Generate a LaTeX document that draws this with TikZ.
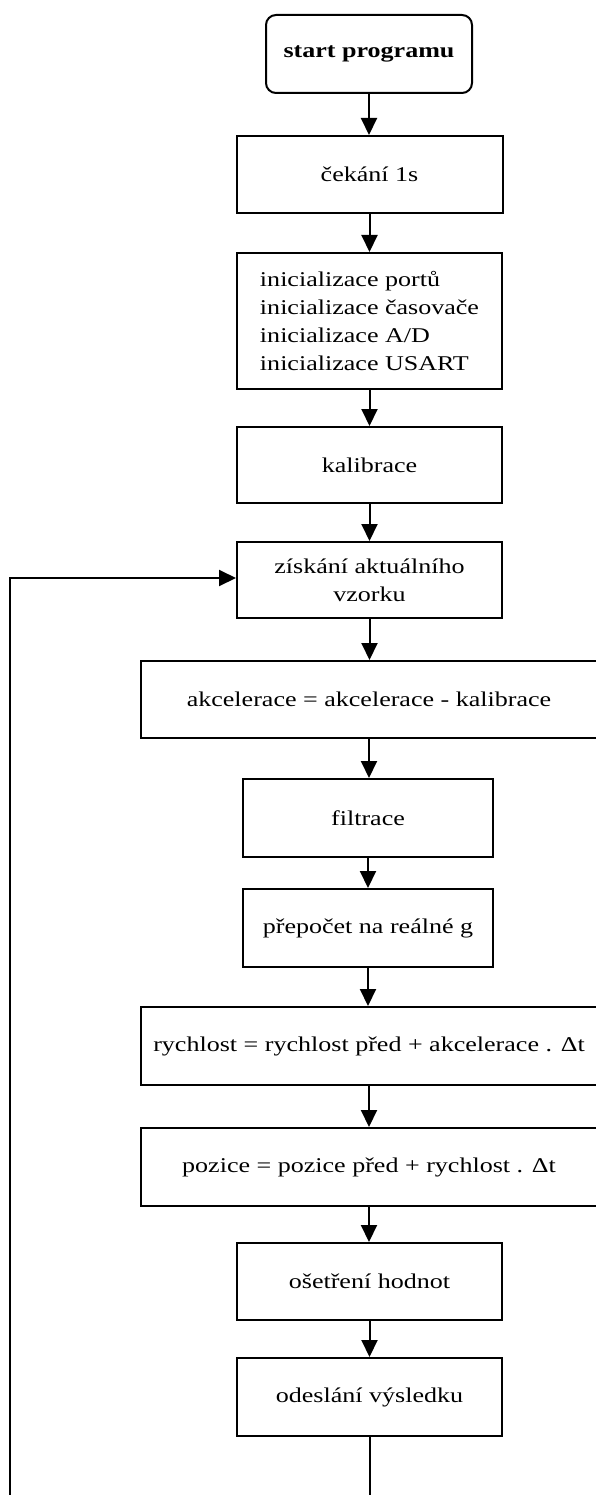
\documentclass[tikz,border=0pt]{standalone}
\usepackage{fontspec}
\setmainfont{Liberation Serif}[FakeStretch=1.24]
\usetikzlibrary{arrows.meta}
\begin{document}
\begin{tikzpicture}[x=1pt,y=-1pt,
  box/.style={draw=black,line width=2pt,inner sep=0pt,align=center,
    font=\fontsize{21}{28}\selectfont},
  startbox/.style={box,rounded corners=10pt,font=\fontsize{21}{28}\selectfont\bfseries},
  arr/.style={draw=black,line width=2pt,-{Triangle[length=17pt,width=16pt]}},
  ln/.style={draw=black,line width=2pt}]
\useasboundingbox (0,0) rectangle (595,1495);
\fill[white] (0,0) rectangle (595,1495);
\node[startbox,minimum width=206pt,minimum height=78pt] (start) at (369,54) {start programu};
\node[box,minimum width=266pt,minimum height=77pt] (cek) at (369.5,174.5) {čekání 1s};
\node[box,minimum width=265pt,minimum height=136pt,align=left] (init) at (369.5,321)
  {\fontsize{21}{27.5}\selectfont inicializace portů\\inicializace časovače\\inicializace A/D\\inicializace USART};
\node[box,minimum width=265pt,minimum height=76pt] (kal) at (369.5,465) {kalibrace};
\node[box,minimum width=265pt,minimum height=76pt] (zisk) at (369.5,580) {získání aktuálního\\vzorku};
\node[box,minimum width=456pt,minimum height=77pt] (akc) at (369,699.5) {akcelerace = akcelerace - kalibrace};
\node[box,minimum width=250pt,minimum height=78pt] (filt) at (368,818) {filtrace};
\node[box,minimum width=250pt,minimum height=78pt] (prep) at (368,928) {přepočet na reálné g};
\node[box,minimum width=456pt,minimum height=78pt] (rych) at (369,1046) {rychlost = rychlost před + akcelerace . Δt};
\node[box,minimum width=456pt,minimum height=78pt] (poz) at (369,1167) {pozice = pozice před + rychlost . Δt};
\node[box,minimum width=265pt,minimum height=77pt] (oset) at (369.5,1281.5) {ošetření hodnot};
\node[box,minimum width=265pt,minimum height=78pt] (odes) at (369.5,1397) {odeslání výsledku};
\coordinate (bot) at (369.5,1495);
\coordinate (botL) at (10,1495);
\coordinate (topL) at (10,578);
\draw[arr] (start.south) -- (start.south |- cek.north);
\draw[arr] (cek.south) -- (cek.south |- init.north);
\draw[arr] (init.south) -- (init.south |- kal.north);
\draw[arr] (kal.south) -- (kal.south |- zisk.north);
\draw[arr] (zisk.south) -- (zisk.south |- akc.north);
\draw[arr] (akc.south) -- (akc.south |- filt.north);
\draw[arr] (filt.south) -- (filt.south |- prep.north);
\draw[arr] (prep.south) -- (prep.south |- rych.north);
\draw[arr] (rych.south) -- (rych.south |- poz.north);
\draw[arr] (poz.south) -- (poz.south |- oset.north);
\draw[arr] (oset.south) -- (oset.south |- odes.north);
\draw[ln] (odes.south) -- (bot);
\draw[arr] (botL) -- (topL) -- (topL -| zisk.west);
\end{tikzpicture}
\end{document}
